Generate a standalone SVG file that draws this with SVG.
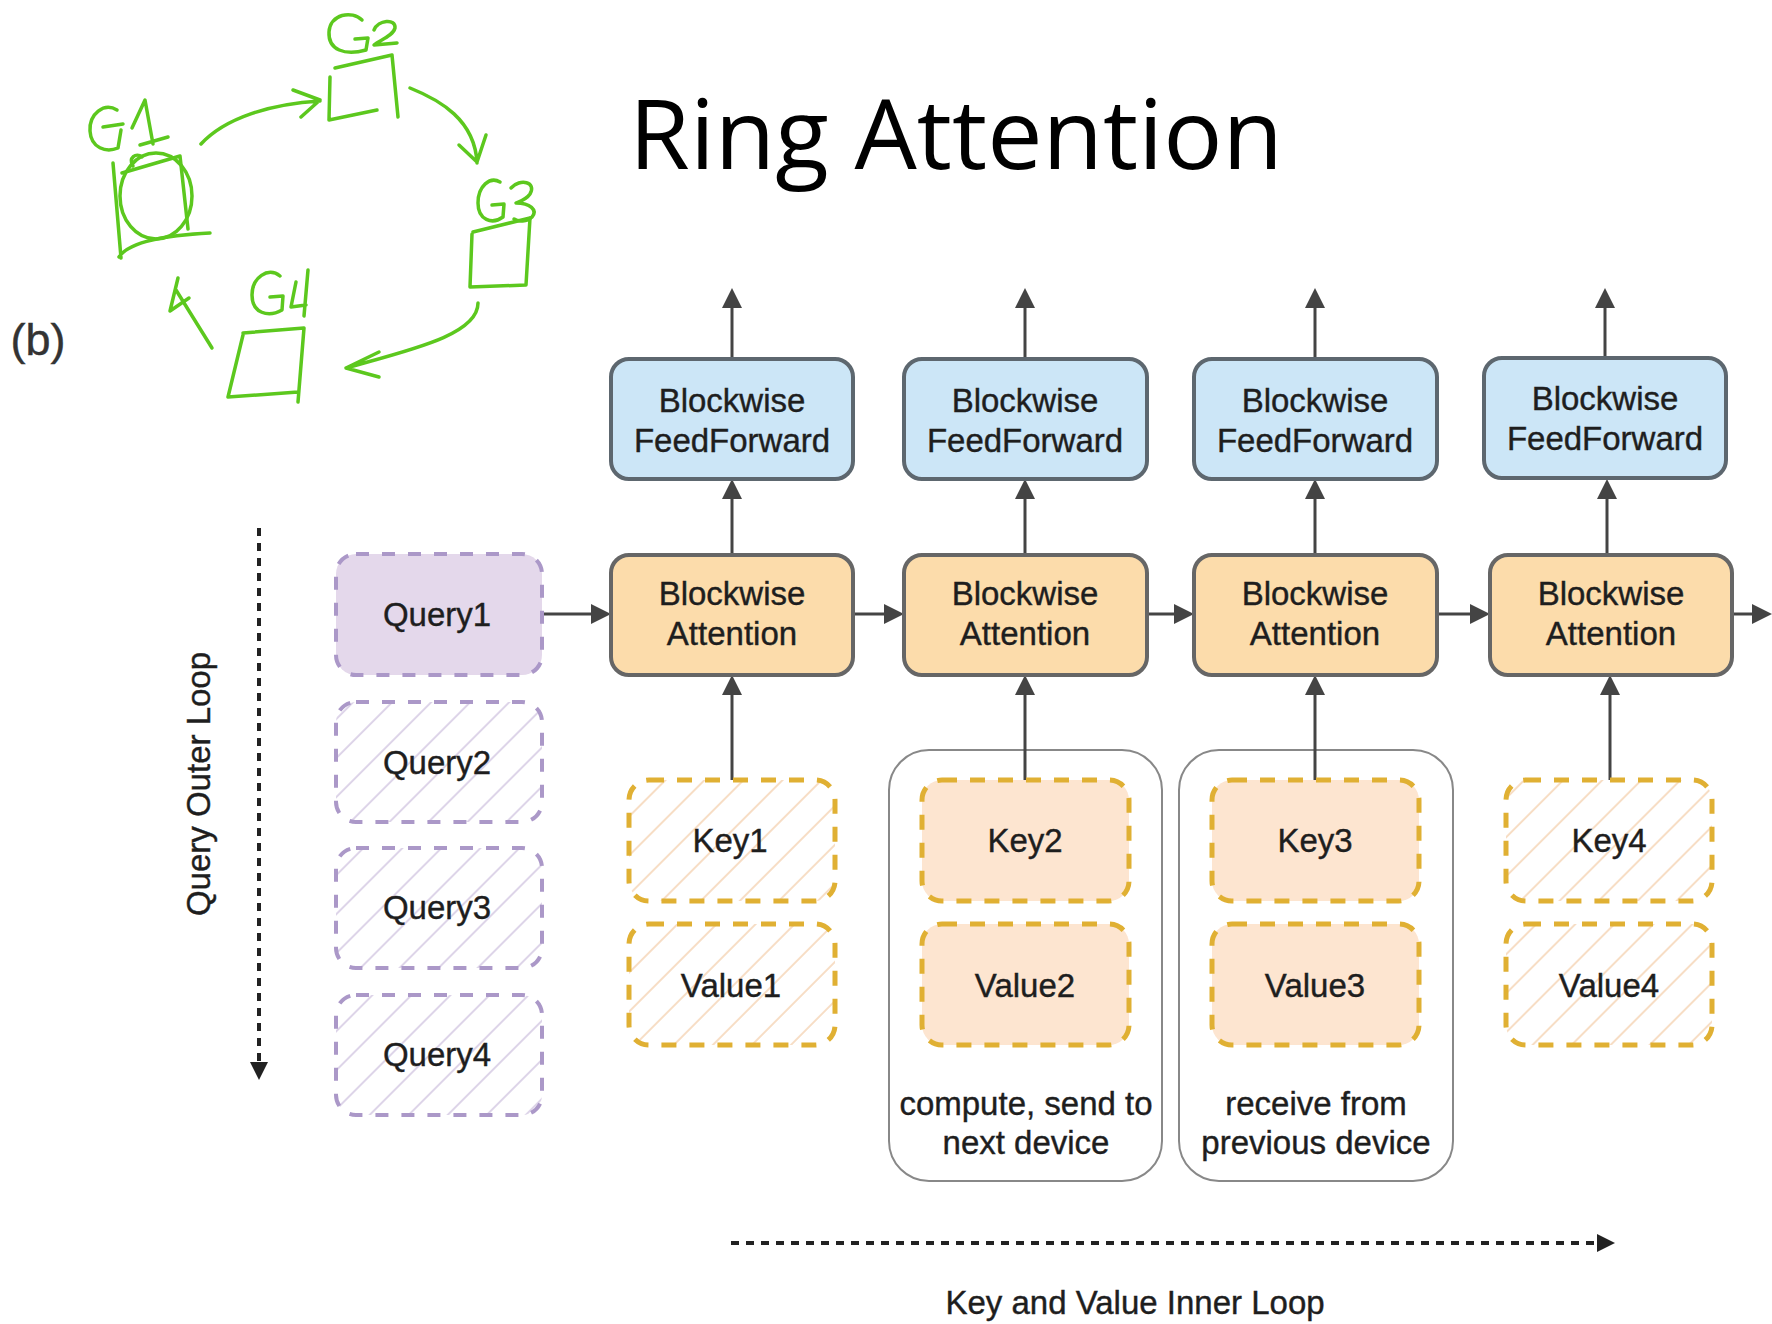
<svg xmlns="http://www.w3.org/2000/svg" width="1772" height="1324" viewBox="0 0 1772 1324">
<style>
text{font-family:"Liberation Sans",Arial,Helvetica,sans-serif;font-size:33px;fill:#1e1e1e;stroke:#1e1e1e;stroke-width:0.4;text-anchor:middle}
.title{font-family:"Open Sans","Noto Sans",sans-serif;font-size:97px;fill:#000;stroke:none;text-anchor:start}
.ff{fill:#cce6f7;stroke:#5d676f;stroke-width:4}
.att{fill:#fcdcab;stroke:#666;stroke-width:4}
.q1{fill:#e4d8eb;stroke:#ab98c8;stroke-width:4;stroke-dasharray:13 13}
.qh{fill:url(#hp);stroke:#ab98c8;stroke-width:4;stroke-dasharray:13 13}
.kh{fill:url(#ho);stroke:#e0b033;stroke-width:5;stroke-dasharray:15 13}
.kf{fill:#fde5d0;stroke:#e0b033;stroke-width:5;stroke-dasharray:15 13}
.cont{fill:#fff;stroke:#888;stroke-width:2}
.conn{fill:none;stroke:#444;stroke-width:3;marker-end:url(#ah)}
.dot{fill:none;stroke:#222;stroke-width:4;stroke-dasharray:8 7;marker-end:url(#ahd)}
.sk{fill:none;stroke:#5cc81e;stroke-width:3.5;stroke-linecap:round;stroke-linejoin:round}
</style>
<defs>
<pattern id="hp" patternUnits="userSpaceOnUse" width="27.6" height="27.6" patternTransform="rotate(45)">
<rect width="27.6" height="27.6" fill="#fff"/>
<line x1="1" y1="0" x2="1" y2="27.6" stroke="#d6cbe4" stroke-width="1.6"/>
</pattern>
<pattern id="ho" patternUnits="userSpaceOnUse" width="27.6" height="27.6" patternTransform="rotate(45)">
<rect width="27.6" height="27.6" fill="#fff"/>
<line x1="1" y1="0" x2="1" y2="27.6" stroke="#f6d6b8" stroke-width="1.6"/>
</pattern>
<marker id="ah" viewBox="0 0 20 20" markerWidth="20" markerHeight="20" refX="10" refY="10" orient="auto" markerUnits="userSpaceOnUse">
<path d="M0,0 L20,10 L0,20 z" fill="#444"/>
</marker>
<marker id="ahd" viewBox="0 0 18 18" markerWidth="18" markerHeight="18" refX="8" refY="9" orient="auto" markerUnits="userSpaceOnUse">
<path d="M0,0 L18,9 L0,18 z" fill="#222"/>
</marker>
</defs>
<rect width="1772" height="1324" fill="#fff"/>

<text class="title" x="629" y="169" textLength="654" lengthAdjust="spacingAndGlyphs">Ring Attention</text>
<text x="38" y="355" style="font-size:45px;fill:#333;stroke:#333">(b)</text>

<g id="sketch">
<path class="sk" d="M117,110 C104,102 89,114 90,131 C91,148 106,153 118,148 L121,130 M103,127 L123,124"/>
<path class="sk" d="M132,128 L145,100 L153,144 M140,145 L168,137"/>
<path class="sk" d="M113,163 L121,258 M122,173 L180,156 L188,229 M119,257 C130,240 172,235 210,233"/>
<ellipse class="sk" cx="156" cy="196" rx="36" ry="43"/>
<path class="sk" d="M133,166 C128,158 136,152 142,157"/>
<path class="sk" d="M201,144 C225,118 270,104 320,101 M293,90 L320,100 L301,117"/>
<path class="sk" d="M362,20 C352,10 330,14 329,32 C328,50 345,56 366,50 L368,38 L355,39"/>
<path class="sk" d="M374,30 C378,20 396,18 395,28 C393,36 380,40 374,45 L397,43"/>
<path class="sk" d="M335,68 L392,55 L398,117 M330,77 L329,120 L377,110"/>
<path class="sk" d="M410,88 C440,100 475,120 477,163 M459,145 L477,162 L486,135"/>
<path class="sk" d="M500,182 C490,176 478,186 478,203 C478,220 492,225 503,217 L504,204 L492,205"/>
<path class="sk" d="M511,188 C520,178 537,182 530,194 C526,200 518,202 516,203 C530,203 538,210 532,217 C527,222 518,222 514,219"/>
<path class="sk" d="M473,232 L530,218 L526,285 L470,287 L472,234"/>
<path class="sk" d="M478,303 C478,335 410,350 346,368 M379,352 L346,368 L379,377"/>
<path class="sk" d="M280,276 C268,266 252,278 252,295 C252,313 268,318 282,310 L283,296 L270,297"/>
<path class="sk" d="M296,282 L291,307 L306,305 M308,270 L304,316"/>
<path class="sk" d="M243,333 L304,328 L298,402 M243,335 L228,397 L298,392"/>
<path class="sk" d="M212,348 L176,290 M178,278 L170,311 L189,298"/>
</g>

<g id="containers">
<rect class="cont" x="889" y="750" width="273" height="431" rx="40"/>
<rect class="cont" x="1179" y="750" width="274" height="431" rx="40"/>
</g>

<g id="connectors">
<path class="conn" d="M732,359 L732,298"/>
<path class="conn" d="M1025,359 L1025,298"/>
<path class="conn" d="M1315,359 L1315,298"/>
<path class="conn" d="M1605,359 L1605,298"/>
<path class="conn" d="M732,555 L732,489"/>
<path class="conn" d="M1025,555 L1025,489"/>
<path class="conn" d="M1315,555 L1315,489"/>
<path class="conn" d="M1607,555 L1607,489"/>
<path class="conn" d="M732,780 L732,685"/>
<path class="conn" d="M1025,780 L1025,685"/>
<path class="conn" d="M1315,780 L1315,685"/>
<path class="conn" d="M1610,780 L1610,685"/>
<path class="conn" d="M542,614 L601,614"/>
<path class="conn" d="M853,614 L894,614"/>
<path class="conn" d="M1147,614 L1184,614"/>
<path class="conn" d="M1437,614 L1480,614"/>
<path class="conn" d="M1732,614 L1762,614"/>
<path class="dot" d="M259,528 L259,1070"/>
<path class="dot" d="M731,1243 L1605,1243"/>
</g>

<g id="ff1"><rect class="ff" x="611" y="359" width="242" height="120" rx="18"/><text x="732" y="412">Blockwise</text><text x="732" y="452">FeedForward</text></g>
<g id="ff2"><rect class="ff" x="904" y="359" width="243" height="120" rx="18"/><text x="1025" y="412">Blockwise</text><text x="1025" y="452">FeedForward</text></g>
<g id="ff3"><rect class="ff" x="1194" y="359" width="243" height="120" rx="18"/><text x="1315" y="412">Blockwise</text><text x="1315" y="452">FeedForward</text></g>
<g id="ff4"><rect class="ff" x="1484" y="358" width="242" height="120" rx="18"/><text x="1605" y="410">Blockwise</text><text x="1605" y="450">FeedForward</text></g>

<g id="att1"><rect class="att" x="611" y="555" width="242" height="120" rx="18"/><text x="732" y="605">Blockwise</text><text x="732" y="645">Attention</text></g>
<g id="att2"><rect class="att" x="904" y="555" width="243" height="120" rx="18"/><text x="1025" y="605">Blockwise</text><text x="1025" y="645">Attention</text></g>
<g id="att3"><rect class="att" x="1194" y="555" width="243" height="120" rx="18"/><text x="1315" y="605">Blockwise</text><text x="1315" y="645">Attention</text></g>
<g id="att4"><rect class="att" x="1490" y="555" width="242" height="120" rx="18"/><text x="1611" y="605">Blockwise</text><text x="1611" y="645">Attention</text></g>

<g id="query1"><rect class="q1" x="336" y="554" width="206" height="121" rx="20"/><text x="437" y="626">Query1</text></g>
<g id="query2"><rect class="qh" x="336" y="702" width="206" height="120" rx="20"/><text x="437" y="774">Query2</text></g>
<g id="query3"><rect class="qh" x="336" y="848" width="206" height="120" rx="20"/><text x="437" y="919">Query3</text></g>
<g id="query4"><rect class="qh" x="336" y="995" width="206" height="120" rx="20"/><text x="437" y="1066">Query4</text></g>

<g id="key1"><rect class="kh" x="629" y="780" width="206" height="121" rx="20"/><text x="730" y="852">Key1</text></g>
<g id="value1"><rect class="kh" x="629" y="924" width="206" height="121" rx="20"/><text x="731" y="997">Value1</text></g>
<g id="key2"><rect class="kf" x="922" y="780" width="207" height="121" rx="20"/><text x="1025" y="852">Key2</text></g>
<g id="value2"><rect class="kf" x="922" y="924" width="207" height="121" rx="20"/><text x="1025" y="997">Value2</text></g>
<g id="key3"><rect class="kf" x="1212" y="780" width="207" height="121" rx="20"/><text x="1315" y="852">Key3</text></g>
<g id="value3"><rect class="kf" x="1212" y="924" width="207" height="121" rx="20"/><text x="1315" y="997">Value3</text></g>
<g id="key4"><rect class="kh" x="1506" y="780" width="206" height="121" rx="20"/><text x="1609" y="852">Key4</text></g>
<g id="value4"><rect class="kh" x="1506" y="924" width="206" height="121" rx="20"/><text x="1609" y="997">Value4</text></g>

<g id="labels">
<text x="1026" y="1115">compute, send to</text>
<text x="1026" y="1154">next device</text>
<text x="1316" y="1115">receive from</text>
<text x="1316" y="1154">previous device</text>
<text transform="translate(210,784) rotate(-90)">Query Outer Loop</text>
<text x="1135" y="1314">Key and Value Inner Loop</text>
</g>
</svg>
